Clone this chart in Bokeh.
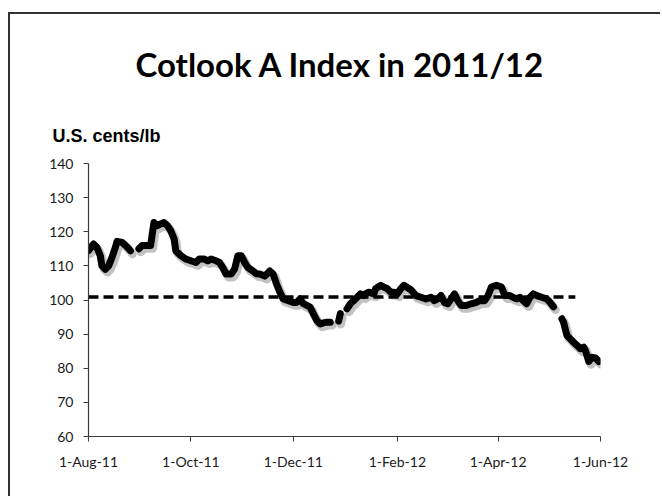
import numpy as np
import pandas as pd
from bokeh.plotting import figure
from bokeh.models import Range1d, FixedTicker, Title, ColumnDataSource
from bokeh.embed import file_html
from bokeh.resources import INLINE

# ---- data ----
dates = [
    "2011-08-01", "2011-08-04", "2011-08-06", "2011-08-08", "2011-08-09", "2011-08-11",
    "2011-08-13", "2011-08-15", "2011-08-17", "2011-08-18", "2011-08-21", "2011-08-23",
    "2011-08-25", "2011-08-26", "2011-08-28",
    "2011-08-31", "2011-09-02", "2011-09-04", "2011-09-07", "2011-09-08", "2011-09-09",
    "2011-09-11", "2011-09-13", "2011-09-15", "2011-09-17", "2011-09-19", "2011-09-21",
    "2011-09-22", "2011-09-25", "2011-09-28", "2011-10-01", "2011-10-04", "2011-10-06",
    "2011-10-09", "2011-10-11", "2011-10-13", "2011-10-16", "2011-10-18", "2011-10-20",
    "2011-10-22", "2011-10-25", "2011-10-27", "2011-10-29", "2011-10-31", "2011-11-02",
    "2011-11-04", "2011-11-07", "2011-11-09", "2011-11-11", "2011-11-14", "2011-11-17",
    "2011-11-19", "2011-11-21", "2011-11-23", "2011-11-25", "2011-11-28", "2011-12-01",
    "2011-12-03", "2011-12-05", "2011-12-07", "2011-12-09", "2011-12-11", "2011-12-13",
    "2011-12-15", "2011-12-17", "2011-12-19", "2011-12-21", "2011-12-23", "2011-12-25",
    "2011-12-28", "2011-12-29", "2011-12-31",
    "2012-01-02", "2012-01-04", "2012-01-06", "2012-01-08", "2012-01-10", "2012-01-12",
    "2012-01-13", "2012-01-15", "2012-01-18", "2012-01-19", "2012-01-22", "2012-01-24",
    "2012-01-26", "2012-01-28", "2012-01-30", "2012-02-01", "2012-02-03", "2012-02-05",
    "2012-02-09", "2012-02-12", "2012-02-15", "2012-02-18", "2012-02-21", "2012-02-23",
    "2012-02-25", "2012-02-27", "2012-02-29", "2012-03-02", "2012-03-04", "2012-03-06",
    "2012-03-08", "2012-03-10", "2012-03-13", "2012-03-16", "2012-03-19", "2012-03-21",
    "2012-03-24", "2012-03-26", "2012-03-28", "2012-03-31", "2012-04-03", "2012-04-05",
    "2012-04-08", "2012-04-10", "2012-04-12", "2012-04-14", "2012-04-16", "2012-04-18",
    "2012-04-20", "2012-04-22", "2012-04-24", "2012-04-27", "2012-04-30", "2012-05-02",
    "2012-05-03", "2012-05-04", "2012-05-06",
    "2012-05-09", "2012-05-10", "2012-05-11", "2012-05-12", "2012-05-14", "2012-05-16",
    "2012-05-18", "2012-05-20", "2012-05-22", "2012-05-23", "2012-05-25", "2012-05-27",
    "2012-05-29", "2012-05-31",
]
nan = float("nan")
index_values = [
    114.5, 116.4, 115.4, 113.0, 110.0, 109.0,
    110.0, 112.5, 115.4, 117.2, 116.9, 116.0,
    115.0, 114.4, nan,
    115.0, 116.0, 116.0, 116.0, 119.4, 122.7,
    121.8, 122.3, 122.7, 121.8, 120.3, 117.9,
    114.4, 113.0, 112.0, 111.5, 111.0, 112.0,
    112.0, 111.5, 112.0, 111.5, 111.0, 109.5,
    107.6, 107.6, 109.0, 113.0, 113.0, 111.0,
    109.5, 108.5, 107.7, 107.6, 107.0, 108.5,
    107.6, 104.7, 102.3, 100.3, 99.8, 99.3,
    99.3, 100.3, 98.9, 98.4, 97.9, 95.9,
    94.0, 93.0, 93.3, 93.5, 93.5, nan,
    93.8, 96.0, nan,
    97.4, 98.9, 99.8, 100.8, 101.8, 101.3,
    101.8, 102.3, 101.8, 103.3, 104.3, 103.8,
    103.3, 102.3, 102.3, 101.8, 103.3, 104.3,
    103.0, 101.3, 100.8, 100.3, 100.8, 99.8,
    100.3, 101.3, 99.3, 98.9, 100.3, 101.8,
    99.8, 98.4, 98.4, 98.9, 99.3, 99.8,
    99.8, 101.3, 103.8, 104.3, 103.8, 101.3,
    101.3, 100.8, 100.3, 100.8, 99.8, 98.9,
    100.8, 101.8, 101.3, 100.8, 100.3, 99.3,
    98.6, 98.0, nan,
    94.5, 93.5, 91.5, 89.6, 88.6, 87.6,
    86.7, 85.7, 86.2, 85.2, 82.0, 83.2,
    83.0, 82.0,
]
avg_dates = ["2011-08-01", "2012-05-17"]
avg_values = [100.9, 100.9]

tick_dates = ["2011-08-01", "2011-10-01", "2011-12-01", "2012-02-01", "2012-04-01", "2012-06-01"]
tick_labels = ["1-Aug-11", "1-Oct-11", "1-Dec-11", "1-Feb-12", "1-Apr-12", "1-Jun-12"]
y_ticks = [60, 70, 80, 90, 100, 110, 120, 130, 140]

title_text = "Cotlook A Index in 2011/12"
unit_text = "U.S. cents/lb"

# ---- build ----
x = pd.to_datetime(dates)
tick_ms = [pd.Timestamp(d).value / 1e6 for d in tick_dates]

p = figure(width=652, height=484, output_backend="svg", toolbar_location=None,
           x_axis_type="datetime",
           x_range=Range1d(pd.Timestamp(tick_dates[0]), pd.Timestamp(tick_dates[-1])),
           y_range=Range1d(60, 140),
           min_border_left=78, min_border_right=62, min_border_top=149, min_border_bottom=62)
p.styles = {"margin-left": "8px", "margin-top": "12px",
            "border-top": "2px solid #333333", "border-left": "2px solid #333333"}
p.outline_line_color = None
p.grid.grid_line_color = None
p.background_fill_color = "white"
p.border_fill_color = "white"

# soft shadow via slightly shifted ranges
p.extra_x_ranges = {"shadow_x": Range1d(pd.Timestamp(tick_dates[0]) - pd.Timedelta(hours=30),
                                        pd.Timestamp(tick_dates[-1]) - pd.Timedelta(hours=30))}
p.extra_y_ranges = {"shadow_y": Range1d(60.9, 140.9)}

src = ColumnDataSource(dict(x=x, y=index_values))
p.line("x", "y", source=src, x_range_name="shadow_x", y_range_name="shadow_y",
       line_color="#9a9a9a", line_alpha=0.6, line_width=8.5, line_cap="round", line_join="round")
p.line(pd.to_datetime(avg_dates), avg_values, line_color="black", line_width=3.5, line_dash="10 5")
p.line("x", "y", source=src, line_color="black", line_width=7, line_cap="round", line_join="round")

for ax in (p.xaxis[0], p.yaxis[0]):
    ax.axis_line_color = "#3a3a3a"
    ax.axis_line_width = 1.2
    ax.major_tick_line_color = "#3a3a3a"
    ax.major_tick_in = 0
    ax.major_tick_out = 5
    ax.minor_tick_line_color = None
    ax.major_label_text_font = "Lato"
    ax.major_label_text_font_size = "14px"
    ax.major_label_text_color = "#1a1a1a"

p.xaxis.ticker = FixedTicker(ticks=tick_ms)
p.xaxis.major_label_overrides = {t: l for t, l in zip(tick_ms, tick_labels)}
p.xaxis.major_label_standoff = 11
p.yaxis.ticker = FixedTicker(ticks=y_ticks)
p.yaxis.major_label_standoff = 10

p.add_layout(Title(text=unit_text, align="left", offset=-36, standoff=35,
                   text_font="Liberation Sans", text_font_style="bold", text_font_size="18px",
                   text_color="black"), "above")
p.add_layout(Title(text=title_text, align="left", offset=47, standoff=45,
                   text_font="Lato", text_font_style="bold", text_font_size="33px",
                   text_color="black"), "above")

open("out.html", "w").write(file_html(p, INLINE))
